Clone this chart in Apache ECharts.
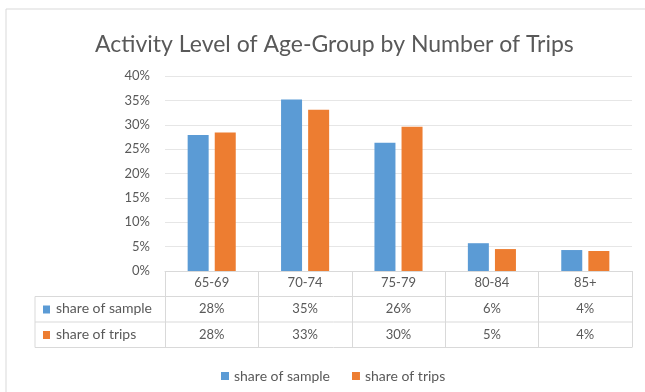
<!DOCTYPE html>
<html>
<head>
<meta charset="utf-8">
<script src="https://cdn.jsdelivr.net/npm/echarts@6/dist/echarts.min.js"></script>
<style>
  html, body { margin: 0; padding: 0; background: #fff; }
  #chart { width: 645px; height: 392px; }
</style>
</head>
<body>
<div id="chart"></div>
<script>
  // data
  const ageGroups = ['65-69', '70-74', '75-79', '80-84', '85+']
  const shareOfSample = [27.9, 35.2, 26.3, 5.7, 4.3]
  const shareOfTrips = [28.4, 33.1, 29.6, 4.5, 4.1]
  const yTicks = [0, 5, 10, 15, 20, 25, 30, 35, 40]

  const BLUE = '#5B9BD5'
  const ORANGE = '#ED7D31'
  const TEXT = '#595959'
  const LINE = '#d9d9d9'
  const FONT = 'Lato'

  const GRID_LEFT = 165
  const GRID_RIGHT = 632
  const GRID_TOP = 76
  const GRID_BOTTOM = 271
  const ROW_H = 25.5
  const TABLE_LEFT = 35

  const chart = echarts.init(document.getElementById('chart'))

  const valueAxis = (values, offset) => ({
    type: 'category',
    data: ageGroups,
    position: 'bottom',
    offset: offset,
    axisLine: { show: false },
    axisTick: { show: false },
    axisLabel: {
      color: TEXT,
      fontFamily: FONT,
      fontSize: 13,
      margin: 6,
      formatter: (v, i) => Math.round(values[i]) + '%'
    }
  })

  const rowLabel = (text, color, row) => ({
    type: 'group',
    left: TABLE_LEFT + 8,
    top: GRID_BOTTOM + ROW_H * row + 5,
    children: [
      { type: 'rect', shape: { x: 0, y: 4, width: 7, height: 8 }, style: { fill: color } },
      { type: 'text', x: 13, y: 0, style: { text: text, fill: TEXT, font: '14px "' + FONT + '"' } }
    ]
  })

  const hLine = (x1, x2, y) => ({
    type: 'line',
    shape: { x1: x1, y1: y, x2: x2, y2: y },
    style: { stroke: LINE, lineWidth: 1 }
  })
  const vLine = (x, y1, y2) => ({
    type: 'line',
    shape: { x1: x, y1: y1, x2: x, y2: y2 },
    style: { stroke: LINE, lineWidth: 1 }
  })

  chart.setOption({
    animation: false,
    title: {
      text: 'Activity Level of Age-Group by Number of Trips',
      left: 90,
      top: 28,
      textStyle: { color: TEXT, fontFamily: FONT, fontSize: 23, fontWeight: 'normal' }
    },
    legend: {
      top: 364,
      left: 216,
      itemWidth: 8,
      itemHeight: 8,
      itemGap: 22,
      icon: 'rect',
      textStyle: { color: TEXT, fontFamily: FONT, fontSize: 14 },
      data: ['share of sample', 'share of trips']
    },
    grid: {
      left: GRID_LEFT,
      right: 645 - GRID_RIGHT,
      top: GRID_TOP,
      bottom: 392 - GRID_BOTTOM,
      containLabel: false
    },
    xAxis: [
      {
        type: 'category',
        data: ageGroups,
        axisLine: { show: true, lineStyle: { color: LINE } },
        axisTick: { show: true, length: ROW_H * 3, lineStyle: { color: LINE } },
        axisLabel: { color: TEXT, fontFamily: FONT, fontSize: 13, margin: 5 }
      },
      valueAxis(shareOfSample, ROW_H),
      valueAxis(shareOfTrips, ROW_H * 2)
    ],
    yAxis: {
      type: 'value',
      min: yTicks[0],
      max: yTicks[yTicks.length - 1],
      interval: yTicks[1] - yTicks[0],
      axisLine: { show: false },
      axisTick: { show: false },
      axisLabel: { color: TEXT, fontFamily: FONT, fontSize: 13, margin: 15, formatter: '{value}%' },
      splitLine: { lineStyle: { color: '#e6e6e6' } }
    },
    series: [
      {
        name: 'share of sample',
        type: 'bar',
        data: shareOfSample,
        itemStyle: { color: BLUE },
        barWidth: 21,
        barGap: '29%'
      },
      {
        name: 'share of trips',
        type: 'bar',
        data: shareOfTrips,
        itemStyle: { color: ORANGE },
        barWidth: 21
      }
    ],
    graphic: [
      {
        type: 'rect',
        shape: { x: 6, y: 9, width: 640, height: 400 },
        style: { fill: 'none', stroke: LINE, lineWidth: 1 },
        silent: true
      },
      hLine(TABLE_LEFT, GRID_RIGHT, GRID_BOTTOM + ROW_H),
      hLine(TABLE_LEFT, GRID_RIGHT, GRID_BOTTOM + ROW_H * 2),
      hLine(TABLE_LEFT, GRID_RIGHT, GRID_BOTTOM + ROW_H * 3),
      vLine(TABLE_LEFT, GRID_BOTTOM + ROW_H, GRID_BOTTOM + ROW_H * 3),
      rowLabel('share of sample', BLUE, 1),
      rowLabel('share of trips', ORANGE, 2)
    ]
  })
</script>
</body>
</html>
